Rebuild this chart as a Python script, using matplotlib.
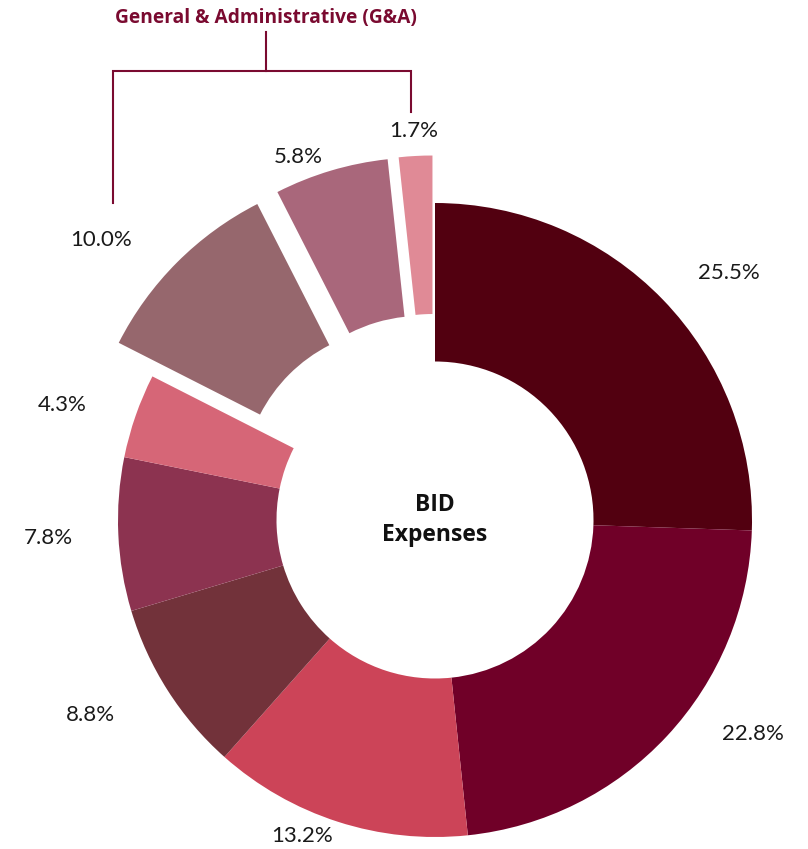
import numpy as np
import matplotlib
matplotlib.use("Agg")
import matplotlib.pyplot as plt

# BID expense shares (%), clockwise from 12 o'clock
values = [25.5, 22.8, 13.2, 8.8, 7.8, 4.3, 10.0, 5.8, 1.7]
labels = ["25.5%", "22.8%", "13.2%", "8.8%", "7.8%", "4.3%", "10.0%", "5.8%", "1.7%"]
colors = ["#520010", "#700028", "#cc4458", "#72323a", "#8c3350",
          "#d66677", "#96676d", "#a9677b", "#e08a96"]
is_ga = [False, False, False, False, False, False, True, True, True]

plt.rcParams['font.family'] = ['Lato', 'DejaVu Sans']

fig = plt.figure(figsize=(8.08, 8.49), dpi=100)
ax = fig.add_axes([0, 0, 1, 1])

explode = [0.15 if g else 0 for g in is_ga]
wedges, _ = ax.pie(values, colors=colors, startangle=90, counterclock=False,
                   explode=explode, radius=1.0,
                   wedgeprops=dict(width=0.5, linewidth=0))

# percentage labels around the ring (distance from ring centre)
label_r = [1.21, 1.21, 1.08, 1.25, 1.22, 1.23, 1.375, 1.224, 1.23]
label_shift = [-4, 9, -5, -3, 0, 2, 5, 4, 0]   # degrees, manual nudges
for w, lab, r, sh in zip(wedges, labels, label_r, label_shift):
    ang = np.deg2rad((w.theta1 + w.theta2) / 2 + sh)
    ax.text(r * np.cos(ang), r * np.sin(ang), lab,
            ha="center", va="center", fontsize=16, fontweight="normal",
            color="#1a1a1a")

ax.text(0, 0, "BID\nExpenses", ha="center", va="center", fontsize=16.5,
        fontweight="bold", color="#111111", linespacing=1.3,
        family=["Open Sans", "DejaVu Sans"])

# G&A bracket
brk = "#7a0a30"
ax.text(-0.533, 1.583, "General & Administrative (G&A)", ha="center",
        va="center", fontsize=13.8, fontweight="bold", color=brk,
        family=["Open Sans", "DejaVu Sans"])
ax.plot([-0.533, -0.533], [1.539, 1.416], color=brk, lw=1.5)
ax.plot([-1.016, -1.016, -0.076, -0.076], [1.0, 1.416, 1.416, 1.287],
        color=brk, lw=1.5, solid_joinstyle="miter")

ax.set_xlim(-435 / 317, (808 - 435) / 317)
ax.set_ylim(-(849 - 520) / 317, 520 / 317)
ax.set_aspect("auto")
ax.axis("off")

fig.savefig("out.png", dpi=100, facecolor="white")
